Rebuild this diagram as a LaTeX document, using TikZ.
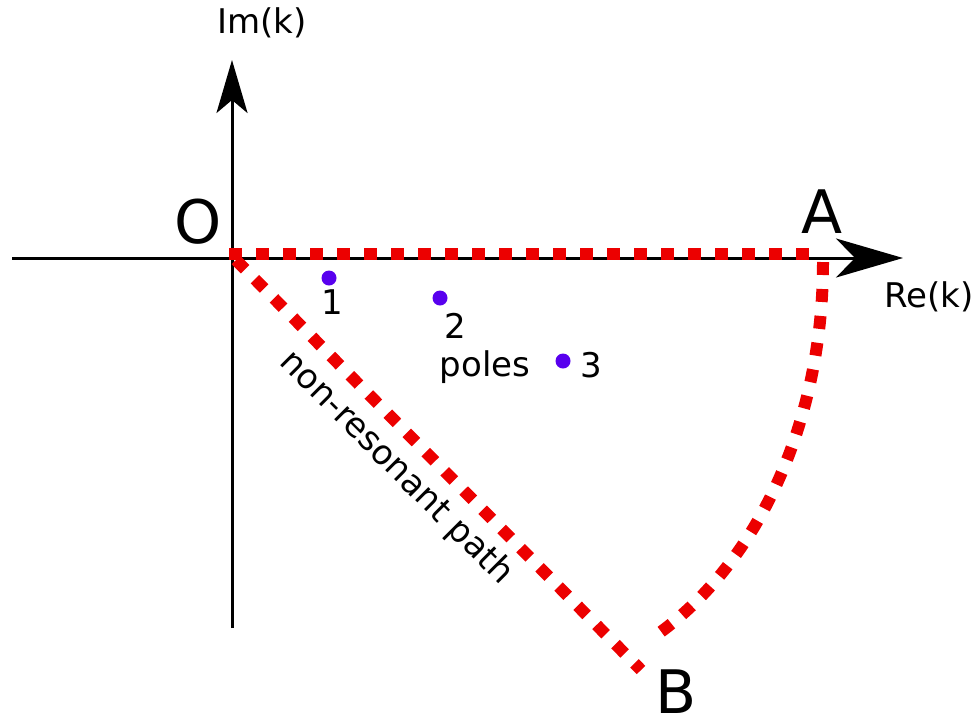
\documentclass[tikz,border=0pt]{standalone}
\usepackage{fontspec}
\setmainfont{DejaVu Sans}
\usetikzlibrary{arrows.meta}
\definecolor{pathred}{RGB}{236,0,0}
\definecolor{polecol}{RGB}{88,0,238}
\tikzset{
  axis/.style={line width=3pt},
  redpath/.style={pathred, line width=12pt, dash pattern=on 13pt off 14pt},
  pole/.style={circle, fill=polecol, inner sep=0pt, minimum size=15pt},
  big/.style={font=\fontsize{60}{60}\selectfont, inner sep=0pt},
  lbl/.style={font=\fontsize{34}{34}\selectfont, inner sep=0pt},
}
\begin{document}
\begin{tikzpicture}[x=1pt,y=-1pt]
\useasboundingbox (0,0) rectangle (980,721);
% axes
\coordinate (xs) at (12,258);
\coordinate (xe) at (903,258);
\coordinate (ys) at (232,628);
\coordinate (ye) at (232,60);
\draw[axis, -{Stealth[length=67pt,width=39pt,inset=19pt]}] (xs) -- (xe);
\draw[axis, -{Stealth[length=53pt,width=31pt,inset=13pt]}] (ys) -- (ye);
% contour points
\coordinate (O) at (229,254);
\coordinate (A) at (823,254);
\coordinate (Ac) at (823,262);
\coordinate (Bc) at (658,634);
\coordinate (Od) at (236,260);
\coordinate (Bd) at (641,670);
\draw[redpath] (O) -- (A);
\draw[redpath] (Ac) .. controls (823,420) and (760,560) .. (Bc);
\draw[redpath] (Od) -- (Bd);
% poles
\node[pole] (p1) at (329,278) {};
\node[pole] (p2) at (440,298) {};
\node[pole] (p3) at (563,361) {};
\node[lbl] (l1) at (332,302) {1};
\node[lbl] (l2) at (455,326) {2};
\node[lbl] (l3) at (591,365) {3};
\node[lbl] (poles) at (485,367) {poles};
% labels
\node[big] (Olab) at (198,222) {O};
\node[big] (Alab) at (822,212) {A};
\node[big] (Blab) at (676,692) {B};
\node[lbl] (im) at (262,23) {Im(k)};
\node[lbl] (re) at (929,297) {Re(k)};
\node[lbl, rotate=-45] (nr) at (396,468) {non-resonant path};
\end{tikzpicture}
\end{document}
